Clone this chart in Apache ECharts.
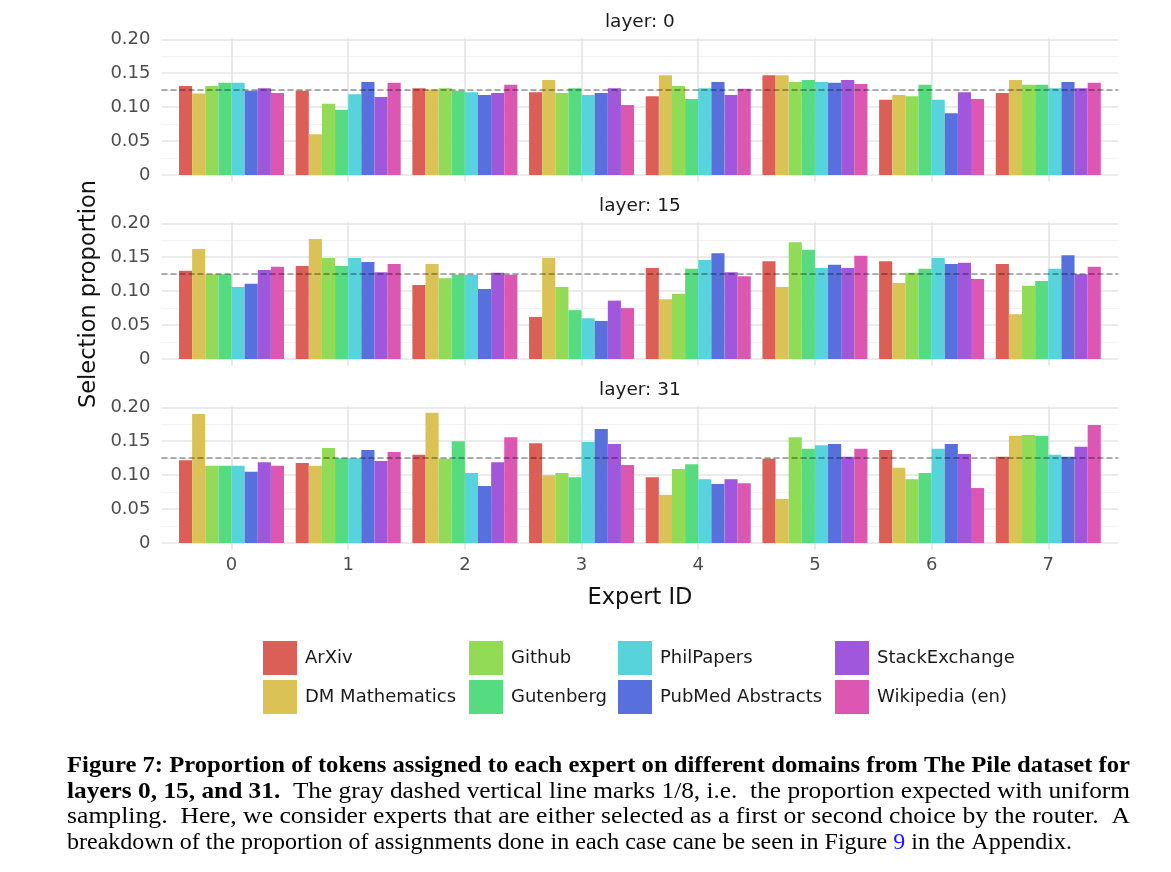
<!DOCTYPE html>
<html><head><meta charset="utf-8">
<script src="https://cdn.jsdelivr.net/npm/echarts@6/dist/echarts.min.js"></script>
<style>html,body{margin:0;padding:0;background:#fff}#c{width:1171px;height:872px}</style>
</head><body><div id="c"></div><script>
// ---------- data ----------
const experts = ['0','1','2','3','4','5','6','7'];
const domains = ['ArXiv','DM Mathematics','Github','Gutenberg','PhilPapers','PubMed Abstracts','StackExchange','Wikipedia (en)'];
const layerNames = ['layer: 0','layer: 15','layer: 31'];
const yTicks = [0, 0.05, 0.10, 0.15, 0.20];
const yMinorTicks = [0.025, 0.075, 0.125, 0.175];
const uniformShare = 1/8;
// rows = experts 0..7, columns = domains (same order as `domains`)
const layer0 = [
  [0.131,0.120,0.131,0.136,0.136,0.124,0.128,0.121],
  [0.124,0.060,0.105,0.096,0.119,0.137,0.115,0.136],
  [0.128,0.126,0.128,0.124,0.122,0.118,0.121,0.133],
  [0.122,0.140,0.121,0.128,0.118,0.121,0.128,0.103],
  [0.116,0.147,0.131,0.112,0.128,0.137,0.118,0.127],
  [0.147,0.147,0.137,0.140,0.137,0.136,0.140,0.134],
  [0.111,0.118,0.116,0.133,0.111,0.091,0.122,0.112],
  [0.121,0.140,0.133,0.133,0.128,0.137,0.128,0.136]
];
const layer15 = [
  [0.130,0.162,0.125,0.125,0.106,0.111,0.131,0.136],
  [0.137,0.177,0.149,0.137,0.149,0.143,0.128,0.140],
  [0.109,0.140,0.119,0.124,0.124,0.103,0.127,0.124],
  [0.062,0.149,0.106,0.072,0.060,0.056,0.086,0.075],
  [0.134,0.088,0.096,0.133,0.146,0.156,0.128,0.122],
  [0.144,0.106,0.172,0.161,0.134,0.139,0.134,0.152],
  [0.144,0.112,0.127,0.133,0.149,0.140,0.142,0.118],
  [0.140,0.066,0.108,0.115,0.133,0.153,0.125,0.136]
];
const layer31 = [
  [0.122,0.190,0.114,0.114,0.114,0.105,0.119,0.114],
  [0.118,0.114,0.140,0.125,0.125,0.137,0.121,0.134],
  [0.130,0.192,0.124,0.150,0.103,0.084,0.119,0.156],
  [0.147,0.100,0.103,0.097,0.149,0.168,0.146,0.115],
  [0.097,0.071,0.109,0.116,0.094,0.087,0.094,0.088],
  [0.124,0.065,0.156,0.139,0.144,0.146,0.127,0.139],
  [0.137,0.111,0.094,0.103,0.139,0.146,0.131,0.081],
  [0.127,0.158,0.159,0.158,0.130,0.127,0.142,0.174]
];
const layers = [layer0, layer15, layer31];
const colors = ['#db5f57','#dbc257','#91db57','#57db80','#57d3db','#5770db','#a157db','#db57b2'];

// ---------- layout ----------
const FONT = 'DejaVu Sans';
const PL = 161.5, PR = 1118.3;
const TOPS = [38.2, 222.2, 406.2];
const PH = 143.3;
const YMIN = -0.0096, YMAX = 0.2016;
const band = (PR - PL) / 8.2;
const fgLeft = PL + 0.1 * band, fgWidth = 8 * band;

const grid = [], xAxis = [], yAxis = [], series = [];
const noLine = { show: false };
layers.forEach((layer, p) => {
  const bg = 2 * p, fg = 2 * p + 1;
  grid.push({ left: PL, width: PR - PL, top: TOPS[p], height: PH });
  grid.push({ left: fgLeft, width: fgWidth, top: TOPS[p], height: PH });
  xAxis.push({ type: 'value', gridIndex: bg, min: -0.6, max: 7.6, show: false });
  yAxis.push({
    type: 'value', gridIndex: bg, min: YMIN, max: YMAX,
    axisLine: noLine, axisTick: { show: false, customValues: yTicks }, splitLine: noLine,
    axisLabel: { customValues: yTicks, fontSize: 18, color: '#4d4d4d', fontFamily: FONT, margin: 11,
      formatter: v => (Math.abs(v) < 1e-9 ? '0' : v.toFixed(2)) }
  });
  xAxis.push({
    type: 'category', gridIndex: fg, data: experts,
    axisLine: noLine, axisTick: noLine, splitLine: noLine,
    axisLabel: { show: p === 2, fontSize: 18, color: '#4d4d4d', fontFamily: FONT, margin: 7 }
  });
  yAxis.push({ type: 'value', gridIndex: fg, min: YMIN, max: YMAX, show: false, splitLine: noLine });

  const lineBase = { symbol: ['none', 'none'], silent: true, animation: false, precision: 6,
    label: { show: false }, emphasis: { disabled: true } };
  // grid lines (behind bars)
  series.push({
    type: 'line', name: 'grid' + p, xAxisIndex: bg, yAxisIndex: bg, data: [], silent: true,
    markLine: Object.assign({}, lineBase, {
      z: 0,
      data: [
        ...yMinorTicks.map(v => ({ yAxis: v, lineStyle: { color: '#f2f2f2', width: 1, type: 'solid' } })),
        ...yTicks.map(v => ({ yAxis: v, lineStyle: { color: '#e4e4e4', width: 1.6, type: 'solid' } })),
        ...experts.map((e, i) => ({ xAxis: i, lineStyle: { color: '#e4e4e4', width: 1.6, type: 'solid' } }))
      ]
    })
  });
  // bars
  domains.forEach((d, k) => {
    series.push({
      type: 'bar', name: d, xAxisIndex: fg, yAxisIndex: fg,
      data: layer.map(row => row[k]),
      itemStyle: { color: colors[k] },
      barGap: '0%', barCategoryGap: '10%', z: 2, animation: false
    });
  });
  // dashed uniform line (above bars)
  series.push({
    type: 'line', name: 'uniform' + p, xAxisIndex: bg, yAxisIndex: bg, data: [], silent: true,
    markLine: Object.assign({}, lineBase, {
      z: 5,
      data: [{ yAxis: uniformShare, lineStyle: { color: 'rgba(0,0,0,0.42)', width: 1.6, type: [6, 3] } }]
    })
  });
});

// ---------- legend ----------
const legendX = [263, 469, 618, 835];
const legend = legendX.map((x, c) => ({
  orient: 'vertical', left: x, top: 641, padding: 0,
  itemWidth: 34, itemHeight: 34, itemGap: 5, icon: 'rect', selectedMode: false,
  data: domains.slice(2 * c, 2 * c + 2),
  textStyle: { fontSize: 18, color: '#1a1a1a', fontFamily: FONT, padding: [0, 0, 0, 3] }
}));

// ---------- caption ----------
const captionLines = [
  [{ s: 'b', t: 'Figure 7: Proportion of tokens assigned to each expert on different domains from The Pile dataset for' }],
  [{ s: 'b', t: 'layers 0, 15, and 31.' }, { s: 'n', t: '  The gray dashed vertical line marks 1/8, i.e.  the proportion expected with uniform' }],
  [{ s: 'n', t: 'sampling.  Here, we consider experts that are either selected as a first or second choice by the router.  A' }],
  [{ s: 'n', t: 'breakdown of the proportion of assignments done in each case cane be seen in Figure ' }, { s: 'l', t: '9' }, { s: 'n', t: ' in the Appendix.' }]
];
const CAP_FS = 23.5, CAP_FONT = 'Liberation Serif';
const capY = [766, 791.5, 817, 842.5];
const capW = [1063, 1063, 1063, 1005];
const ctx = document.createElement('canvas').getContext('2d');
function measure(parts) {
  let w = 0;
  parts.forEach(pt => {
    ctx.font = (pt.s === 'b' ? 'bold ' : '') + CAP_FS + 'px "' + CAP_FONT + '"';
    w += ctx.measureText(pt.t).width;
  });
  return w;
}
const richStyles = {
  b: { fontWeight: 'bold', fontSize: CAP_FS, fontFamily: CAP_FONT, fill: '#000', color: '#000' },
  n: { fontWeight: 'normal', fontSize: CAP_FS, fontFamily: CAP_FONT, fill: '#000', color: '#000' },
  l: { fontWeight: 'normal', fontSize: CAP_FS, fontFamily: CAP_FONT, fill: '#1a1aff', color: '#1a1aff' }
};
const graphic = [];
captionLines.forEach((parts, i) => {
  const w = measure(parts);
  graphic.push({
    type: 'text', x: 67, y: capY[i], scaleX: capW[i] / w, silent: true,
    style: {
      text: parts.map(pt => '{' + pt.s + '|' + pt.t + '}').join(''),
      rich: richStyles, fontSize: CAP_FS, fontFamily: CAP_FONT,
      align: 'left', verticalAlign: 'middle', fill: '#000'
    }
  });
});
// panel titles
layerNames.forEach((n, p) => {
  graphic.push({ type: 'text', x: (PL + PR) / 2, y: 22 + 184 * p, silent: true,
    style: { text: n, fontSize: 18.5, fontFamily: FONT, fill: '#1a1a1a', align: 'center', verticalAlign: 'middle' } });
});
// axis titles
graphic.push({ type: 'text', x: 640, y: 598, silent: true,
  style: { text: 'Expert ID', fontSize: 22.5, fontFamily: FONT, fill: '#111', align: 'center', verticalAlign: 'middle' } });
graphic.push({ type: 'text', x: 89, y: 294, rotation: Math.PI / 2, silent: true,
  style: { text: 'Selection proportion', fontSize: 22.5, fontFamily: FONT, fill: '#111', align: 'center', verticalAlign: 'middle' } });

const chart = echarts.init(document.getElementById('c'), null, { renderer: 'canvas' });
chart.setOption({
  animation: false,
  backgroundColor: '#ffffff',
  textStyle: { fontFamily: FONT },
  grid, xAxis, yAxis, series, legend, graphic
});
</script></body></html>
